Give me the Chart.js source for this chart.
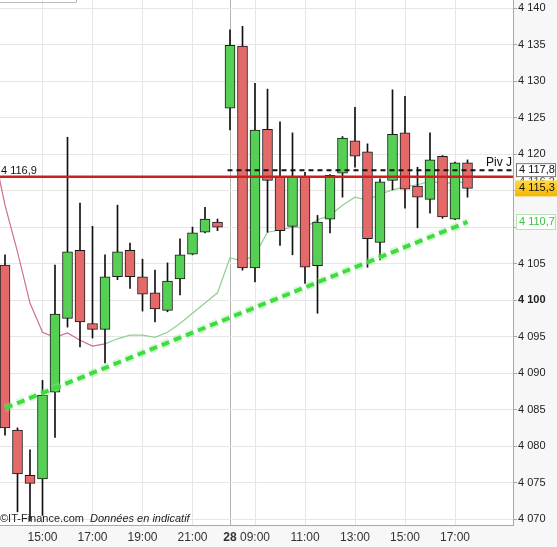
<!DOCTYPE html>
<html>
<head>
<meta charset="utf-8">
<script src="https://cdn.jsdelivr.net/npm/chart.js@4.4.1/dist/chart.umd.min.js"></script>
<style>
  html, body { margin: 0; padding: 0; background: #fff; }
  #wrap { width: 557px; height: 547px; }
</style>
</head>
<body>
<div id="wrap"><canvas id="chart" width="557" height="547"></canvas></div>
<script>
// half-hour candles, 27th 13:30 -> 22:00 then 28th 08:00 -> 17:30
const times = ['13:30','14:00','14:30','15:00','15:30','16:00','16:30','17:00','17:30','18:00',
               '18:30','19:00','19:30','20:00','20:30','21:00','21:30','22:00',
               '08:00','08:30','09:00','09:30','10:00','10:30','11:00','11:30','12:00','12:30',
               '13:00','13:30','14:00','14:30','15:00','15:30','16:00','16:30','17:00','17:30'];
const opens  = [4104.8,4082.2,4076.0,4075.5,4087.4,4097.5,4106.8,4096.8,4096.0,4103.2,
                4106.8,4103.2,4101.0,4098.6,4102.9,4106.3,4109.3,4110.7,
                4126.3,4134.8,4104.4,4123.4,4116.8,4110.1,4116.8,4104.7,4111.1,4117.4,
                4121.8,4120.3,4107.9,4116.4,4122.9,4115.6,4113.8,4119.7,4111.1,4118.8];
const highs  = [4106.2,4082.5,4079.5,4089.0,4104.8,4122.3,4113.3,4110.1,4106.2,4113.0,
                4107.8,4105.6,4104.1,4105.1,4108.4,4110.0,4112.7,4111.1,
                4137.0,4137.5,4129.7,4128.9,4124.4,4122.9,4117.5,4111.6,4117.2,4122.4,
                4126.4,4121.4,4116.6,4128.8,4127.9,4118.2,4122.9,4119.8,4118.9,4119.2];
const lows   = [4081.5,4071.0,4069.8,4070.5,4081.2,4096.3,4093.6,4094.8,4091.4,4102.8,
                4101.6,4098.5,4097.0,4098.4,4100.7,4106.2,4109.2,4109.5,
                4123.3,4104.1,4102.5,4109.3,4107.5,4106.2,4102.3,4098.2,4109.2,4114.1,
                4118.2,4104.5,4105.5,4115.1,4112.6,4109.9,4111.9,4111.2,4111.0,4114.1];
const closes = [4082.5,4076.2,4074.9,4087.0,4098.1,4106.6,4097.0,4096.0,4103.2,4106.6,
                4103.2,4100.8,4098.8,4102.6,4106.2,4109.2,4111.1,4110.0,
                4134.9,4104.4,4123.3,4116.4,4109.5,4116.8,4104.5,4110.7,4117.1,4122.2,
                4119.7,4108.4,4116.2,4122.7,4115.2,4114.1,4119.2,4111.4,4118.8,4115.3];

// moving average, first value belongs to the candle before 13:30
const maValues = [4121.2,
                4113.0,4106.6,4099.6,4095.6,4094.9,4095.5,4094.5,4093.7,4094.0,4094.7,
                4095.2,4095.2,4094.9,4095.6,4096.8,4098.2,4099.6,4101.0,
                4105.8,4105.3,4106.2,4109.3,4109.6,4110.0,4109.9,4111.0,4111.6,4113.0,
                4114.1,4113.7,4114.5,4115.1,4115.5,4115.8,4116.3,4116.0,4116.1,4116.2];

// support trend line (start candle, end candle)
const trendIdx = [0, 37];
const trendVals = [4085.2, 4110.7];

const redLevel = 4116.9;
const pivotLevel = 4117.8;
const lastPrice = 4115.3;

const yTicks = [4070,4075,4080,4085,4090,4095,4100,4105,4110,4115,4120,4125,4130,4135,4140];
const tickSlots = [3, 7, 11, 15, 18, 20, 24, 28, 32, 36];
const tickLabels = ['15:00','17:00','19:00','21:00','28','09:00','11:00','13:00','15:00','17:00'];

const FONT = "'Liberation Sans', Arial, sans-serif";

function fmtInt(v) {
    return Math.floor(v / 1000) + ' ' + String(Math.round(v % 1000)).padStart(3, '0');
}
function fmtDec(v) {
    const rest = (v % 1000).toFixed(1).padStart(5, '0');
    return Math.floor(v / 1000) + ' ' + rest.replace('.', ',');
}

const wickData = times.map((t, i) => ({ x: i, y: [lows[i], highs[i]] }));
const bodyData = times.map((t, i) => ({ x: i, y: [opens[i], closes[i]] }));
const maData = maValues.map((v, i) => ({ x: i - 1, y: v }));
const trendData = trendIdx.map((x, i) => ({ x: x, y: trendVals[i] }));

// white plot, light grey margins
const backdrop = {
    id: 'backdrop',
    beforeDraw(chart) {
        const { ctx, chartArea: a, width, height } = chart;
        ctx.save();
        ctx.fillStyle = '#f7f7f7';
        ctx.fillRect(0, 0, width, height);
        ctx.fillStyle = '#fff';
        ctx.fillRect(a.left, a.top, a.right - a.left, a.bottom - a.top);
        ctx.restore();
    }
};

// red level, pivot line and their texts
const levels = {
    id: 'levels',
    afterDatasetsDraw(chart) {
        const { ctx, chartArea: a, scales } = chart;
        const yRed = scales.y.getPixelForValue(redLevel);
        const yPiv = scales.y.getPixelForValue(pivotLevel);
        ctx.save();
        ctx.beginPath();
        ctx.rect(a.left, a.top, a.right - a.left, a.bottom - a.top);
        ctx.clip();

        ctx.strokeStyle = '#111';
        ctx.lineWidth = 2;
        ctx.setLineDash([5, 4]);
        ctx.beginPath();
        ctx.moveTo(scales.x.getPixelForValue(17.8), yPiv);
        ctx.lineTo(a.right, yPiv);
        ctx.stroke();
        ctx.setLineDash([]);

        ctx.strokeStyle = '#cc2020';
        ctx.lineWidth = 2.5;
        ctx.beginPath();
        ctx.moveTo(a.left, yRed);
        ctx.lineTo(a.right, yRed);
        ctx.stroke();

        ctx.font = '11px ' + FONT;
        ctx.fillStyle = '#111';
        ctx.textBaseline = 'middle';
        ctx.textAlign = 'left';
        ctx.fillText(fmtDec(redLevel), a.left + 1, yRed - 6);
        ctx.textAlign = 'right';
        ctx.font = '12px ' + FONT;
        ctx.fillText('Piv J', a.right - 1, yPiv - 7);
        ctx.restore();
    }
};

// value boxes on the price axis, footer and top-left frame
const labels = {
    id: 'labels',
    afterDraw(chart) {
        const { ctx, chartArea: a, scales, width } = chart;
        const y = scales.y;
        const x0 = a.right + 3;
        const w = width - x0 - 1;
        ctx.save();
        ctx.font = '11px ' + FONT;
        ctx.textBaseline = 'middle';
        ctx.textAlign = 'left';

        // hidden MA value behind the others
        const yMa = y.getPixelForValue(maValues[maValues.length - 1]);
        ctx.fillStyle = '#fff';
        ctx.fillRect(x0, yMa - 7, w, 14);
        ctx.fillStyle = '#444';
        ctx.fillText(fmtDec(maValues[maValues.length - 1]), x0 + 3, yMa);

        const yPiv = y.getPixelForValue(pivotLevel);
        ctx.fillStyle = '#fff';
        ctx.fillRect(x0, yPiv - 7, w, 14);
        ctx.strokeStyle = '#777';
        ctx.lineWidth = 1;
        ctx.strokeRect(x0 + 0.5, yPiv - 6.5, w - 1, 13);
        ctx.fillStyle = '#111';
        ctx.fillText(fmtDec(pivotLevel), x0 + 3, yPiv);

        const yLast = y.getPixelForValue(lastPrice);
        const g = ctx.createLinearGradient(0, yLast - 8, 0, yLast + 8);
        g.addColorStop(0, '#ffd84a');
        g.addColorStop(1, '#f2b800');
        ctx.fillStyle = g;
        ctx.fillRect(x0 - 1, yLast - 8, w + 2, 16);
        ctx.fillStyle = '#111';
        ctx.fillText(fmtDec(lastPrice), x0 + 3, yLast);

        const yTr = y.getPixelForValue(trendVals[1]);
        ctx.fillStyle = '#fff';
        ctx.fillRect(x0, yTr - 8, w, 16);
        ctx.strokeStyle = '#b5e3b5';
        ctx.strokeRect(x0 + 0.5, yTr - 7.5, w - 1, 15);
        ctx.fillStyle = '#3cbf3c';
        ctx.fillText(fmtDec(trendVals[1]), x0 + 3, yTr);

        // footer
        ctx.fillStyle = '#222';
        ctx.font = '11px ' + FONT;
        ctx.fillText('\u00a9IT-Finance.com', 0, 519);
        ctx.font = 'italic 11px ' + FONT;
        ctx.fillText('Donn\u00e9es en indicatif', 90, 519);

        // frame remnant at the top left
        ctx.strokeStyle = '#bbb';
        ctx.beginPath();
        ctx.moveTo(0, 2.5);
        ctx.lineTo(76.5, 2.5);
        ctx.lineTo(76.5, 0);
        ctx.stroke();
        ctx.restore();
    }
};

const ctx = document.getElementById('chart').getContext('2d');
new Chart(ctx, {
    type: 'bar',
    data: {
        datasets: [{
            type: 'line',
            data: maData,
            borderWidth: 1.2,
            pointRadius: 0,
            tension: 0,
            segment: {
                borderColor: c => c.p0.parsed.x < 8 ? '#cf6f92' : '#8fd08f'
            },
            order: 5
        }, {
            data: wickData,
            backgroundColor: '#111',
            barThickness: 1,
            grouped: false,
            order: 3
        }, {
            data: bodyData,
            backgroundColor: c => {
                const i = c.dataIndex;
                return closes[i] >= opens[i] ? '#55d055' : '#e46a6a';
            },
            borderColor: '#1a1a1a',
            borderWidth: 1,
            borderSkipped: false,
            barThickness: 10,
            grouped: false,
            order: 2
        }, {
            type: 'line',
            data: trendData,
            borderColor: 'rgba(140, 235, 140, 0.35)',
            borderWidth: 8,
            borderDash: [8, 5],
            pointRadius: 0,
            order: 1
        }, {
            type: 'line',
            data: trendData,
            borderColor: '#3fdc3f',
            borderWidth: 4,
            borderDash: [8, 5],
            pointRadius: 0,
            order: 0
        }]
    },
    options: {
        responsive: false,
        animation: false,
        devicePixelRatio: 1,
        layout: { padding: 0 },
        plugins: {
            legend: { display: false },
            tooltip: { enabled: false }
        },
        scales: {
            x: {
                type: 'linear',
                min: -0.4,
                max: 40.64,
                offset: false,
                afterBuildTicks: s => { s.ticks = tickSlots.map(v => ({ value: v })); },
                afterFit: s => { s.height = 22; s.paddingLeft = 0; s.paddingRight = 0; },
                grid: {
                    offset: false,
                    color: c => c.tick && c.tick.value === 18 ? '#b4b4b4' : '#e6e6e6',
                    drawTicks: false
                },
                border: { display: true, color: '#a8a8a8' },
                ticks: {
                    autoSkip: false,
                    maxRotation: 0,
                    padding: 5,
                    color: '#333',
                    font: c => ({ family: FONT, size: 12, weight: c.tick && c.tick.value === 18 ? 'bold' : 'normal' }),
                    callback: v => tickLabels[tickSlots.indexOf(v)]
                }
            },
            y: {
                position: 'right',
                min: 4069.2,
                max: 4141.1,
                afterBuildTicks: s => { s.ticks = yTicks.map(v => ({ value: v })); },
                afterFit: s => { s.width = 44; s.paddingTop = 0; s.paddingBottom = 0; },
                grid: { color: '#e6e6e6', tickLength: 4, tickColor: '#aaa' },
                border: { display: true, color: '#a8a8a8' },
                ticks: {
                    padding: 1,
                    color: '#222',
                    font: c => ({ family: FONT, size: 11, weight: c.tick && c.tick.value === 4100 ? 'bold' : 'normal' }),
                    callback: v => fmtInt(v)
                }
            }
        }
    },
    plugins: [backdrop, levels, labels]
});
</script>
</body>
</html>
